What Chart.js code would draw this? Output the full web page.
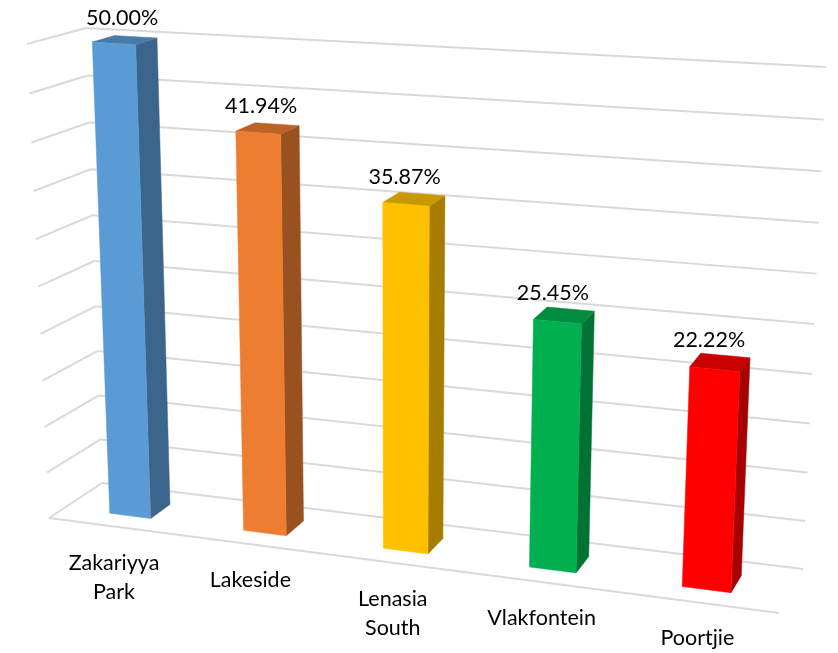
<!DOCTYPE html>
<html>
<head>
<meta charset="utf-8">
<style>html,body{margin:0;padding:0;background:#fff}canvas{display:block}</style>
<script src="https://cdn.jsdelivr.net/npm/chart.js@4"></script>
</head>
<body>
<canvas id="c" width="838" height="653"></canvas>
<script>
const categories = [["Zakariyya","Park"],["Lakeside"],["Lenasia","South"],["Vlakfontein"],["Poortjie"]];
const shareValues = [50.00, 41.94, 35.87, 25.45, 22.22];
const barColors = ["#5B9BD5","#ED7D31","#FFC000","#00B050","#FF0000"];

// Camera of the 3-D box, as screen positions of its eight corners
const BOX = {
  fbl:[49,518], fbr:[779,613], bbl:[102,483], bbr:[803,569],
  ftl:[27,44],  ftr:[803,93],  btl:[86,28],   btr:[826,67]
};
const VALUE_NUDGE_X = [0, -2, -3, -3, -1];
const warp = (d,a) => d*a/(1+d*(a-1));
const mix = (p,q,t) => [p[0]+(q[0]-p[0])*t, p[1]+(q[1]-p[1])*t];
function project(u,v,z){
  const s = warp(u,0.895), t = warp(v,0.953);
  const fb = mix(BOX.fbl,BOX.fbr,s), bb = mix(BOX.bbl,BOX.bbr,s);
  const ft = mix(BOX.ftl,BOX.ftr,s), bt = mix(BOX.btl,BOX.btr,s);
  return mix(mix(fb,bb,z), mix(ft,bt,z), t);
}
function shade(hex,f){
  const n = parseInt(hex.slice(1),16);
  const c = [n>>16,(n>>8)&255,n&255].map(x=>Math.round(x*f));
  return `rgb(${c[0]},${c[1]},${c[2]})`;
}
function poly(ctx,pts,fill){
  ctx.beginPath();
  pts.forEach((p,i)=> i?ctx.lineTo(p[0],p[1]):ctx.moveTo(p[0],p[1]));
  ctx.closePath();
  ctx.fillStyle = fill; ctx.fill();
  ctx.strokeStyle = fill; ctx.lineWidth = 0.5; ctx.stroke();
}
const Z_FRONT = 0.30, Z_BACK = 0.69;

const box3d = {
  id:'box3d',
  beforeDatasetsDraw(chart){
    const ctx = chart.ctx, a = chart.chartArea, ys = chart.scales.y;
    const dv = val => (a.bottom - ys.getPixelForValue(val))/a.height;
    const seg = (p,q)=>{ctx.beginPath();ctx.moveTo(p[0],p[1]);ctx.lineTo(q[0],q[1]);ctx.stroke();};

    // gridlines on the side wall, the back wall and the floor's front edge
    ctx.save();
    ctx.strokeStyle = '#D9D9D9'; ctx.lineWidth = 2; ctx.lineCap = 'butt'; ctx.lineJoin='miter';
    ys.ticks.forEach(tk=>{
      const v = dv(tk.value);
      seg(project(0,v,0), project(0,v,1));
      seg(project(0,v,1), project(1,v,1));
    });
    seg(project(0,0,0), project(1,0,0));
    ctx.restore();

    // bars
    const meta = chart.getDatasetMeta(0);
    meta.data.forEach((el,i)=>{
      const u0 = (el.x - el.width/2 - a.left)/a.width;
      const u1 = (el.x + el.width/2 - a.left)/a.width;
      const v  = dv(shareValues[i]);
      const col = chart.data.datasets[0].backgroundColor[i];
      const f0b=project(u0,0,Z_FRONT), f1b=project(u1,0,Z_FRONT), b1b=project(u1,0,Z_BACK);
      const f0t=project(u0,v,Z_FRONT), f1t=project(u1,v,Z_FRONT), b1t=project(u1,v,Z_BACK), b0t=project(u0,v,Z_BACK);
      poly(ctx,[f1b,b1b,b1t,f1t],shade(col,0.65));
      poly(ctx,[f0t,f1t,b1t,b0t],shade(col,0.79));
      poly(ctx,[f0b,f1b,f1t,f0t],col);
    });

    // value labels and category labels
    ctx.save();
    ctx.fillStyle = '#000'; ctx.textAlign='center'; ctx.textBaseline='middle';
    meta.data.forEach((el,i)=>{
      const d = (el.x - a.left)/a.width;
      const top = project(d,dv(shareValues[i]),0.5);
      ctx.font = '21.5px Lato, Carlito, sans-serif';
      ctx.fillText(shareValues[i].toFixed(2)+'%', top[0]-2-9*d+VALUE_NUDGE_X[i], top[1]-22);
      const base = project(d,0,0);
      categories[i].forEach((line,k)=> ctx.fillText(line, base[0]-1, base[1]+36+k*29));
    });
    ctx.restore();
    return false;
  }
};

new Chart(document.getElementById('c'),{
  type:'bar',
  data:{labels:categories,datasets:[{data:shareValues,backgroundColor:barColors,barPercentage:0.31,categoryPercentage:1}]},
  options:{
    responsive:false,animation:false,
    layout:{padding:0},
    plugins:{legend:{display:false},tooltip:{enabled:false},title:{display:false}},
    scales:{
      x:{display:false},
      y:{display:false,min:0,max:50,ticks:{stepSize:5}}
    }
  },
  plugins:[box3d]
});
</script>
</body>
</html>
